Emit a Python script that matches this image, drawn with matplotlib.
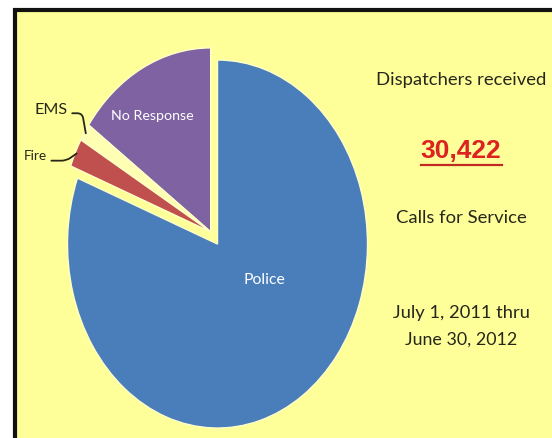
import numpy as np
import matplotlib
matplotlib.use("Agg")
import matplotlib.pyplot as plt
from matplotlib.patches import Rectangle
from matplotlib.lines import Line2D
from matplotlib.text import Text
from matplotlib.transforms import IdentityTransform

# Calls for service, July 1, 2011 - June 30, 2012
categories = ["No Response", "EMS", "Fire", "Police"]
calls = [4605, 465, 761, 24591]
total_calls = 30422
slice_colors = ["#7F62A2", "#FFFFB4", "#C0504D", "#4A7EBB"]
pull_out = [0.0, 0.0, 0.0, 0.08]

headline = "Dispatchers received"
subline = "Calls for Service"
period = ["July 1, 2011 thru", "June 30, 2012"]

BG = "#FFFF99"
INK = "#26261A"
body = ["Lato", "DejaVu Sans"]
wide = ["Liberation Sans", "DejaVu Sans"]

W, H = 552, 438
fig = plt.figure(figsize=(W / 100, H / 100), dpi=100, facecolor="white")

# yellow panel with a dark frame on its top and left edges
panel = Rectangle((14.5 / W, -0.1), 1.2, 0.1 + (H - 10) / H,
                  transform=fig.transFigure, facecolor=BG,
                  edgecolor="#111111", linewidth=3.0, zorder=-10)
fig.add_artist(panel)

# pie axes: elliptical pie, 300 px wide and 368 px tall
cx, cy = 210.7, H - 231.9
rx, ry = 150.0, 184.0
ax = fig.add_axes([(cx - rx) / W, (cy - ry) / H, 2 * rx / W, 2 * ry / H])
wedges, _ = ax.pie(calls, colors=slice_colors, startangle=90,
                   counterclock=True, explode=pull_out,
                   wedgeprops=dict(edgecolor="#FFFFC8", linewidth=1.0))
ax.set_aspect("auto")
ax.set_xlim(-1, 1)
ax.set_ylim(-1, 1)
ax.axis("off")
ax.patch.set_visible(False)
for w in wedges:
    w.set_clip_on(False)

# inside labels
t_nr = ax.text(-0.39, 0.63, categories[0], color="white", fontsize=12,
               family=body, ha="center", va="center")
t_po = ax.text(0.355, -0.26, categories[3], color="white", fontsize=12,
               family=body, ha="center", va="center")


def rim_point(w, r=0.99):
    mid = np.deg2rad((w.theta1 + w.theta2) / 2)
    x0, y0 = w.center
    return x0 + r * np.cos(mid), y0 + r * np.sin(mid)


# outside labels with leader lines
t_ems = ax.annotate(categories[1], xy=rim_point(wedges[1]), xytext=(-0.951, 0.66),
                    textcoords="data", ha="right", va="center", fontsize=12,
                    family=body, color=INK, annotation_clip=False,
                    arrowprops=dict(arrowstyle="-", color=INK, lw=1.3,
                                    connectionstyle="angle,angleA=0,angleB=100,rad=5",
                                    relpos=(1.0, 0.3), shrinkA=1, shrinkB=0))
t_fire = ax.annotate(categories[2], xy=rim_point(wedges[2]), xytext=(-1.09, 0.41),
                     textcoords="data", ha="right", va="center", fontsize=12,
                     family=body, color=INK, annotation_clip=False,
                     arrowprops=dict(arrowstyle="-", color=INK, lw=1.3,
                                     connectionstyle="angle,angleA=0,angleB=35,rad=5",
                                     relpos=(1.0, 0.15), shrinkA=1, shrinkB=0))

# summary text on the right
tx = 461 / W
t_head = fig.text(tx, 1 - 80 / H, headline, ha="center", va="center",
                  fontsize=16, family=body, color=INK)
big = fig.text(tx, 1 - 158 / H, f"{total_calls:,}", ha="center",
               va="baseline", fontsize=19, fontweight="bold", family=wide,
               color="#DD2222")
t_sub = fig.text(tx, 1 - 218 / H, subline, ha="center", va="center",
                 fontsize=16, family=body, color=INK)
t_p0 = fig.text(tx, 1 - 313 / H, period[0], ha="center", va="center",
                fontsize=16, family=body, color=INK)
t_p1 = fig.text(tx, 1 - 340 / H, period[1], ha="center", va="center",
                fontsize=16, family=body, color=INK)

# size each label to its intended width in pixels
widths = [(t_head, 171), (t_sub, 131), (t_p0, 138), (t_p1, 113),
          (t_nr, 83), (t_po, 42), (t_ems, 33), (t_fire, 23)]
fig.canvas.draw()
renderer = fig.canvas.get_renderer()
for t, target in widths:
    w = Text.get_window_extent(t, renderer).width
    t.set_fontsize(t.get_fontsize() * target / w)

# underline the total
fig.canvas.draw()
bb = big.get_window_extent()
uy = bb.y0 - 2
fig.add_artist(Line2D([bb.x0, bb.x1 + 1], [uy, uy], transform=IdentityTransform(),
                      color="#C02A22", linewidth=1.6))

fig.savefig("out.png", dpi=100, facecolor="white")
